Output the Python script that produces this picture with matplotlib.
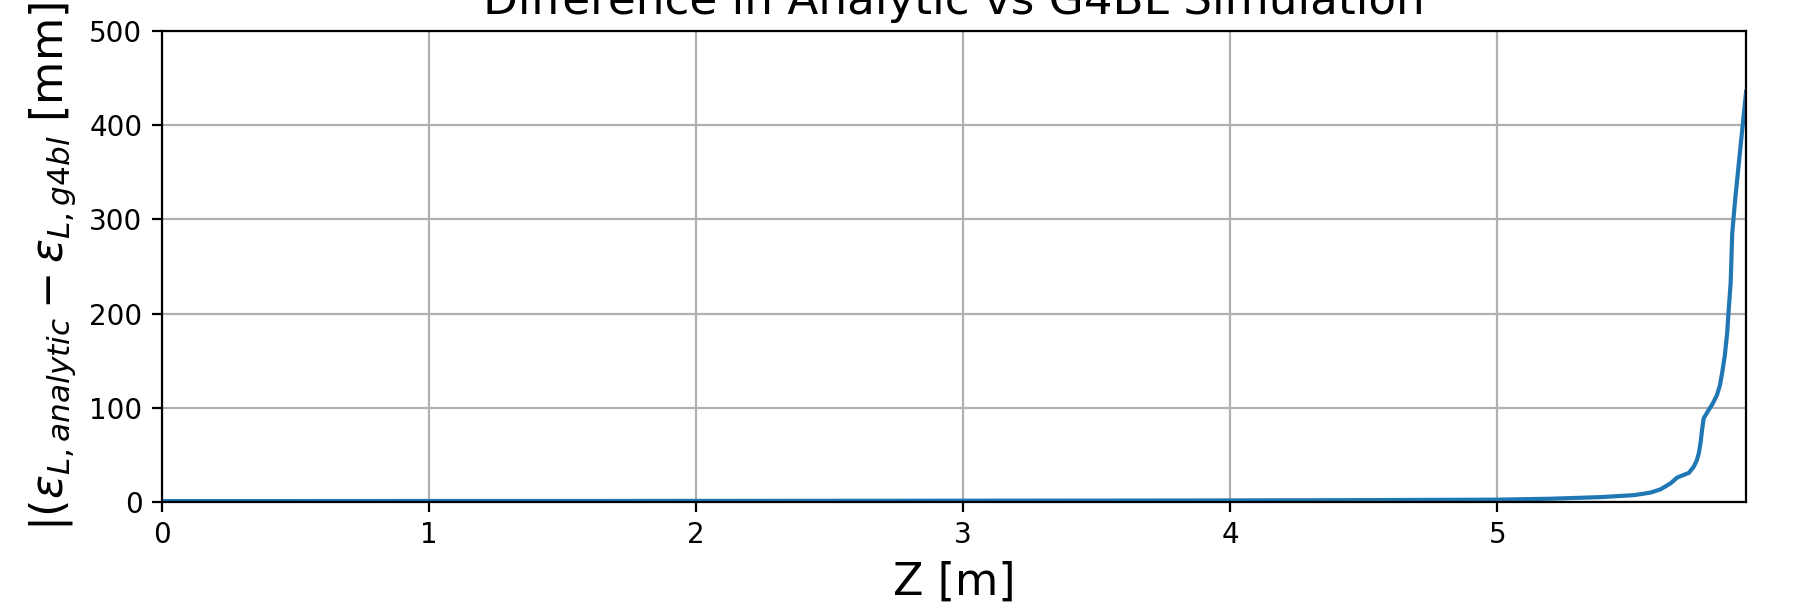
import matplotlib.pyplot as plt
import numpy as np

# Longitudinal emittance difference along the beamline (analytic minus G4BL)
z_m = [0.0, 0.5, 1.0, 1.5, 2.0, 2.5, 3.0, 3.5, 4.0, 4.5, 5.0, 5.2, 5.386,
       5.511, 5.573, 5.61, 5.648, 5.673, 5.695, 5.717, 5.735, 5.746, 5.754,
       5.761, 5.766, 5.772, 5.782, 5.791, 5.805, 5.822, 5.833, 5.841, 5.851,
       5.86, 5.866, 5.873, 5.876, 5.879, 5.885, 5.891, 5.911, 5.931]
eps_diff = [1.0, 1.0, 1.1, 1.1, 1.2, 1.3, 1.4, 1.5, 1.7, 2.0, 2.5, 3.5, 5.2,
            7.3, 10.0, 13.4, 19.8, 26.0, 28.5, 31.0, 37.5, 44.0, 51.7,
            64.0, 76.4, 88.8, 93.5, 97.7, 104.0, 113.6, 124.0, 136.6, 155.0,
            179.0, 205.0, 232.0, 258.0, 285.0, 305.0, 324.0, 380.0, 435.6]

fig, ax = plt.subplots(figsize=(8.995, 3.06), dpi=200)
fig.subplots_adjust(left=0.090, right=0.9706, bottom=0.1797, top=0.9493)

ax.plot(z_m, eps_diff, color='tab:blue')
ax.set_xlim(0, max(z_m))
ax.set_ylim(0, 500)
ax.grid(True)

ax.set_xlabel('Z [m]', fontsize=16)
ax.set_ylabel(r'$|(\epsilon_{L,analytic} - \epsilon_{L,g4bl}$ [mm]', fontsize=16)
ax.set_title('Difference in Analytic vs G4BL Simulation', fontsize=16.3)

fig.savefig('out.png')
